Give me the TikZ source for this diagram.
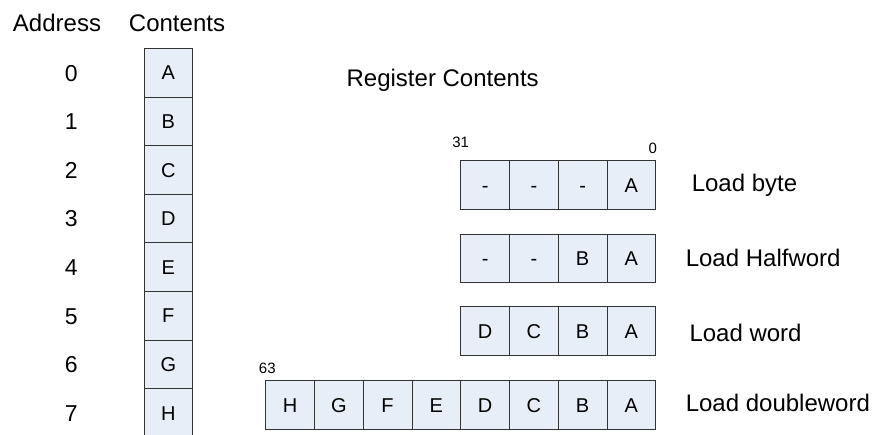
\documentclass[tikz,border=0pt]{standalone}
\usepackage{fontspec}
\setmainfont{Liberation Sans}
\usepackage{xcolor}
\definecolor{cellfill}{RGB}{232,238,247}

\begin{document}
\begin{tikzpicture}[x=1pt,y=-1pt,
		cell/.style={draw=black!80,line width=0.9pt,fill=cellfill,minimum width=48.7pt,minimum height=48.6pt,inner sep=0pt,text height=14.3pt,text depth=0pt,font=\fontsize{20}{24}\selectfont},
		lbl/.style={inner sep=0pt,anchor=base,font=\fontsize{24}{28}\selectfont},
		bitno/.style={inner sep=0pt,anchor=base,font=\fontsize{15}{18}\selectfont}]
		\useasboundingbox (0,0) rectangle (876,434);
		\node[lbl] (addr) at (57,31) {Address};
		\node[lbl] (cont) at (177,31) {Contents};
		\foreach \c [count=\i from 0] in {A,B,C,D,E,F,G,H} {
			\node[cell] (m\i) at (168.3,72.8+48.6*\i) {\c};
			\node[inner sep=0pt,text height=16.5pt,text depth=0pt,font=\fontsize{23}{27}\selectfont] (a\i) at (71.3,72.8+48.6*\i) {\i};
		}
		\node[lbl] (reg) at (442.7,86) {Register Contents};
		\foreach \y/\row/\txt in {185.2/byte/{A,-,-,-},258.4/half/{A,B,-,-},331.2/word/{A,B,C,D},404.9/dword/{A,B,C,D,E,F,G,H}}
			\foreach \c [count=\j from 0] in \txt
				\node[cell] (\row\j) at (631.35-48.75*\j,\y) {\c};
		\node[bitno] (b31) at (460.7,147.3) {31};
		\node[bitno] (b0) at (652.7,153.3) {0};
		\node[bitno] (b63) at (267.3,373.3) {63};
		\node[lbl,anchor=base west] (lbyte) at (691.6,191) {Load byte};
		\node[lbl,anchor=base west] (lhalf) at (685.6,266) {Load Halfword};
		\node[lbl,anchor=base west] (lword) at (689.3,341.7) {Load word};
		\node[lbl,anchor=base west] (ldword) at (685.6,411) {Load doubleword};
		\end{tikzpicture}
\end{document}
